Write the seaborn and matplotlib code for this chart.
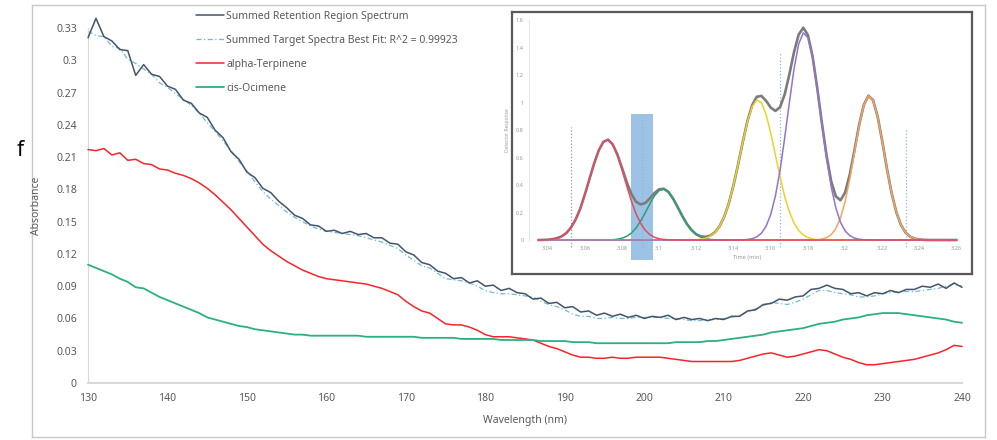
import numpy as np
import pandas as pd
import seaborn as sns
import matplotlib
matplotlib.use("Agg")
import matplotlib.pyplot as plt

# ---- main spectra (absorbance at 1 nm steps) ----
wavelength = np.arange(130, 241)

summed = [
    .321, .339, .322, .318, .310, .309, .286, .296, .287, .285,
    .276, .273, .263, .260, .251, .247, .235, .228, .215, .208,
    .196, .191, .181, .177, .169, .163, .156, .153, .147, .146,
    .141, .142, .139, .141, .138, .139, .135, .135, .130, .129,
    .122, .119, .112, .110, .104, .102, .097, .098, .093, .095,
    .090, .091, .086, .088, .084, .083, .078, .079, .074, .075,
    .070, .071, .066, .067, .063, .065, .062, .064, .061, .063,
    .060, .062, .061, .063, .059, .061, .059, .060, .058, .060,
    .059, .062, .062, .067, .068, .073, .074, .078, .077, .080,
    .081, .087, .088, .091, .088, .087, .083, .084, .081, .084,
    .083, .086, .084, .087, .087, .090, .089, .092, .088, .093,
    .089,
]

alpha_terpinene = [
    .217, .216, .218, .212, .214, .207, .208, .204, .203, .199,
    .198, .195, .193, .190, .186, .181, .175, .168, .161, .153,
    .145, .137, .129, .123, .118, .113, .109, .105, .102, .099,
    .097, .096, .095, .094, .093, .092, .090, .088, .085, .082,
    .076, .071, .067, .065, .060, .055, .054, .054, .052, .049,
    .045, .043, .043, .043, .042, .041, .040, .037, .034, .032,
    .029, .026, .024, .024, .023, .023, .024, .023, .023, .024,
    .024, .024, .024, .023, .022, .021, .020, .020, .020, .020,
    .020, .020, .021, .023, .025, .027, .028, .026, .024, .025,
    .027, .029, .031, .030, .027, .024, .022, .019, .017, .017,
    .018, .019, .020, .021, .022, .024, .026, .028, .031, .035,
    .034,
]

cis_ocimene = [
    .110, .107, .104, .101, .097, .094, .089, .088, .084, .080,
    .077, .074, .071, .068, .065, .061, .059, .057, .055, .053,
    .052, .050, .049, .048, .047, .046, .045, .045, .044, .044,
    .044, .044, .044, .044, .044, .043, .043, .043, .043, .043,
    .043, .043, .042, .042, .042, .042, .042, .041, .041, .041,
    .041, .041, .040, .040, .040, .040, .040, .039, .039, .039,
    .039, .038, .038, .038, .037, .037, .037, .037, .037, .037,
    .037, .037, .037, .037, .038, .038, .038, .038, .039, .039,
    .040, .041, .042, .043, .044, .045, .047, .048, .049, .050,
    .051, .053, .055, .056, .057, .059, .060, .061, .063, .064,
    .065, .065, .065, .064, .063, .062, .061, .060, .059, .057,
    .056,
]

y_ticks = [0, .03, .06, .09, .12, .15, .18, .21, .24, .27, .3, .33]
x_ticks = [130, 140, 150, 160, 170, 180, 190, 200, 210, 220, 230, 240]

# ---- inset chromatogram (at 0.0025 min steps) ----
inset_t = np.round(np.arange(3.035, 3.2601, 0.0025), 4)

peak_red = [0, .001, .002, .006, .013, .026, .050, .089, .147, .226,
            .330, .443, .556, .652, .714, .729, .694, .617, .512, .396,
            .286, .193, .122, .071, .039, .020, .009, .004, .002, .001] + [0] * 61
peak_green = [0] * 15 + [.001, .002, .006, .013, .027, .050, .086, .137, .198,
                         .264, .322, .360, .369, .348, .300, .238, .173, .115,
                         .070, .039, .020, .010, .004, .002, .001] + [0] * 51
peak_yellow = [0] * 33 + [.001, .002, .006, .013, .028, .054, .099, .170, .269,
                          .400, .554, .715, .863, .970, 1.019, .998, .912, .777,
                          .619, .460, .316, .206, .124, .069, .037, .018, .008,
                          .003, .001] + [0] * 29
peak_purple = [0] * 44 + [.001, .004, .010, .023, .050, .100, .186, .320, .506,
                          .743, .998, 1.242, 1.425, 1.507, 1.472, 1.326, 1.101,
                          .843, .598, .388, .234, .129, .066, .032, .014, .006,
                          .002, .001] + [0] * 19
peak_orange = [0] * 59 + [.001, .002, .007, .017, .039, .084, .160, .280, .445,
                          .637, .829, .979, 1.048, 1.018, .897, .716, .518, .341,
                          .204, .110, .054, .024, .010, .004, .001] + [0] * 7
total_signal = [0, .001, .002, .006, .013, .026, .050, .089, .147, .226,
                .330, .443, .556, .652, .714, .730, .696, .623, .525, .423,
                .336, .279, .259, .269, .303, .342, .369, .373, .350, .301,
                .238, .173, .115, .071, .041, .026, .023, .032, .056, .100,
                .170, .269, .400, .554, .716, .867, .980, 1.042, 1.048, 1.012,
                .963, .939, .966, 1.059, 1.204, 1.366, 1.494, 1.544, 1.490, 1.335,
                1.106, .851, .615, .427, .318, .289, .346, .477, .651, .835,
                .981, 1.049, 1.018, .897, .716, .518, .341, .204, .110, .054,
                .024, .010, .004, .001] + [0] * 7

marker_t = [3.0524, 3.091, 3.165, 3.233]
marker_top = [0.82, 0.90, 1.36, 0.81]
band_t = [3.0846, 3.0965]
band_y = [-0.145, 0.92]
inset_xticks = [3.04, 3.06, 3.08, 3.1, 3.12, 3.14, 3.16, 3.18, 3.2, 3.22, 3.24, 3.26]
inset_yticks = [0, .2, .4, .6, .8, 1.0, 1.2, 1.4, 1.6]

df = pd.DataFrame({"wl": wavelength, "summed": summed,
                   "terp": alpha_terpinene, "ocim": cis_ocimene})
df["fit"] = df["terp"] + df["ocim"]

sns.set_style("white")
plt.rcParams["font.family"] = ["Noto Sans", "DejaVu Sans"]

txt = "#595959"
fig = plt.figure(figsize=(9.97, 4.4), dpi=100)

# outer border
border = fig.add_axes([0.0321, 0.0068, 0.956, 0.982])
border.set_xticks([]); border.set_yticks([])
for s in border.spines.values():
    s.set_color("#c8c8c8"); s.set_linewidth(1)
border.set_zorder(-5)

ax = fig.add_axes([0.0883, 0.1295, 0.8766, 0.8068])
ax.patch.set_alpha(0)
sns.lineplot(data=df, x="wl", y="fit", ax=ax, color="#4bacc6", lw=0.9, alpha=0.8,
             linestyle=(0, (4, 2, 1, 2)), label="Summed Target Spectra Best Fit: R^2 = 0.99923", zorder=2)
sns.lineplot(data=df, x="wl", y="summed", ax=ax, color="#44546a", lw=1.1,
             label="Summed Retention Region Spectrum", zorder=3)
sns.lineplot(data=df, x="wl", y="terp", ax=ax, color="#f5252a", lw=1.1,
             label="alpha-Terpinene", zorder=3)
sns.lineplot(data=df, x="wl", y="ocim", ax=ax, color="#2bb07f", lw=1.3,
             label="cis-Ocimene", zorder=3)
for ln in ax.get_lines():
    ln.set_clip_on(False)

ax.set_xlim(130, 240)
ax.set_ylim(0, 0.33)
ax.set_xticks(x_ticks)
ax.set_yticks(y_ticks)
ax.set_yticklabels([f"{v:g}" for v in y_ticks])
ax.tick_params(length=0, labelsize=7.5, colors=txt)
ax.tick_params(axis="y", pad=8)
ax.tick_params(axis="x", pad=7)
for side in ["top", "right"]:
    ax.spines[side].set_visible(False)
ax.spines["left"].set_color("#d9d9d9")
ax.spines["bottom"].set_color("#d9d9d9")
ax.spines["bottom"].set_linewidth(1.5)
ax.set_xlabel("Wavelength (nm)", fontsize=7.5, color=txt, labelpad=8)
ax.set_ylabel("Absorbance", fontsize=7.5, color=txt, labelpad=10)

handles, labels = ax.get_legend_handles_labels()
order = [1, 0, 2, 3]
ax.get_legend().remove()
fig.legend([handles[i] for i in order], [labels[i] for i in order],
           loc="upper left", bbox_to_anchor=(0.1966, 0.975), frameon=False,
           fontsize=7.5, labelcolor=txt, handlelength=2.7, handletextpad=0.2,
           labelspacing=1.25, borderpad=0, borderaxespad=0)

fig.text(0.017, 0.645, "f", fontsize=15, color="black")

# inset frame
frame = fig.add_axes([0.5135, 0.3773, 0.4614, 0.5955])
frame.set_xticks([]); frame.set_yticks([])
frame.set_facecolor("white")
for s in frame.spines.values():
    s.set_color("#595959"); s.set_linewidth(1.6)

ins = fig.add_axes([0.5306, 0.4545, 0.4383, 0.5])
ins.patch.set_alpha(0)
ins.fill_between(band_t, band_y[0], band_y[1], color="#5b9bd5", alpha=0.6,
                 lw=0, clip_on=False, zorder=1)
ins.vlines(marker_t, -0.05, marker_top, colors=["#9a9a9a", "#8fb4e0", "#8fb4e0", "#8fb4e0"],
           linestyles=":", lw=0.9, clip_on=False, zorder=2)
sns.lineplot(x=inset_t, y=total_signal, ax=ins, color="#7c7c7c", lw=1.9, zorder=3)
for ys, col in [(peak_green, "#2e9e7a"), (peak_yellow, "#f2d027"),
                (peak_orange, "#f4a45e"), (peak_purple, "#9275c9"),
                (peak_red, "#e84a5f")]:
    sns.lineplot(x=inset_t, y=ys, ax=ins, color=col, lw=1.1, zorder=4)
for ln in ins.get_lines():
    ln.set_clip_on(False)
ins.set_xlim(3.03, 3.265)
ins.set_ylim(0, 1.6)
ins.set_xticks(inset_xticks)
ins.set_xticklabels([f"{v:g}" for v in inset_xticks])
ins.set_yticks(inset_yticks)
ins.set_yticklabels([f"{v:g}" for v in inset_yticks])
ins.tick_params(length=0, labelsize=4, colors="#9a9a9a", pad=4)
for side in ["top", "right", "bottom"]:
    ins.spines[side].set_visible(False)
ins.spines["left"].set_color("#e6e6e6")
ins.set_xlabel("Time (min)", fontsize=4, color="#9a9a9a", labelpad=3)
ins.set_ylabel("Detector Response", fontsize=3.5, color="#9a9a9a", labelpad=4)

fig.savefig("out.png", dpi=100)
